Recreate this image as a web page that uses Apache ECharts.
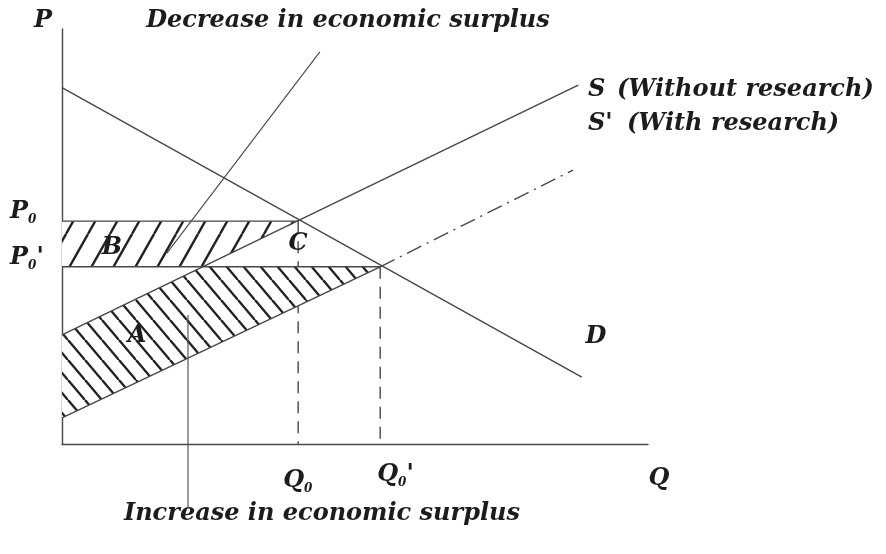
<!DOCTYPE html>
<html>
<head>
<meta charset="utf-8">
<script src="https://cdn.jsdelivr.net/npm/echarts@6/dist/echarts.min.js"></script>
<style>
  html, body { margin: 0; padding: 0; background: #fff; }
  #chart { width: 886px; height: 554px; }
</style>
</head>
<body>
<div id="chart"></div>
<script>
// values, Q and P both on a 0..100 scale
const demandCurve = [[0, 85.9], [88.7, 16.1]];
const supplyWithout = [[0, 26.3], [88.1, 86.5]];
const supplyWith = [[0, 6.3], [54.3, 42.7]];
const supplyWithExtension = [[54.3, 42.7], [87.2, 66.0]];

const priceLineP0 = [[0, 53.7], [40.3, 53.7]];
const priceLineP0p = [[0, 42.7], [54.3, 42.7]];
const guideQ0 = [[40.3, 53.7], [40.3, 0]];
const guideQ0p = [[54.3, 42.7], [54.3, 0]];

const regionA = [[0, 26.3], [24.0, 42.7], [54.3, 42.7], [0, 6.3]];
const regionB = [[0, 53.7], [40.3, 53.7], [24.0, 42.7], [0, 42.7]];

const decreasePointer = [[44.0, 94.5], [17.9, 46.0]];
const increasePointer = [[21.5, 31.1], [21.5, -15.4]];

const quantityTicks = [40.3, 54.3];
const quantityTickLabels = [['Q', '0', ''], ['Q', '0', "'"]];
const priceTicks = [53.7, 42.7];
const priceTickLabels = [['P', '0', ''], ['P', '0', "'"]];

const LINE = '#474747';
const INK = '#1c1c1c';
const FONT = '"DejaVu Serif", "Liberation Serif", serif';
const bigFont = 'italic bold 24px ' + FONT;

function hatch(w, h, dir) {
    const c = document.createElement('canvas');
    c.width = w;
    c.height = h;
    const ctx = c.getContext('2d');
    ctx.fillStyle = '#fff';
    ctx.fillRect(0, 0, w, h);
    ctx.strokeStyle = '#222';
    ctx.lineWidth = 2.4;
    for (const off of [-w, 0, w]) {
        ctx.beginPath();
        if (dir === '/') {
            ctx.moveTo(off, h);
            ctx.lineTo(off + w, 0);
        } else {
            ctx.moveTo(off, 0);
            ctx.lineTo(off + w, h);
        }
        ctx.stroke();
    }
    return c;
}

const patternA = { image: hatch(17, 20, '\\'), repeat: 'repeat' };
const patternB = { image: hatch(22, 39, '/'), repeat: 'repeat' };

function polygonSeries(points, pattern) {
    return {
        type: 'custom',
        silent: true,
        data: [[0, 0]],
        z: 1,
        renderItem: (params, api) => ({
            type: 'polygon',
            shape: { points: points.map(p => api.coord(p)) },
            style: { fill: pattern, stroke: null }
        })
    };
}

function lineSeries(data, style, extra) {
    return Object.assign({
        type: 'line',
        data: data,
        symbol: 'none',
        silent: true,
        z: 3,
        lineStyle: Object.assign({ color: LINE, width: 1.4 }, style)
    }, extra || {});
}

const option = {
    animation: false,
    backgroundColor: '#fff',
    grid: { left: 62, top: 29, width: 586, height: 415, containLabel: false },
    xAxis: {
        type: 'value', min: 0, max: 100,
        axisLine: { lineStyle: { color: LINE, width: 1.4 } },
        axisTick: { show: false }, axisLabel: { show: false }, splitLine: { show: false }
    },
    yAxis: {
        type: 'value', min: 0, max: 100,
        axisLine: { show: true, lineStyle: { color: LINE, width: 1.4 } },
        axisTick: { show: false }, axisLabel: { show: false }, splitLine: { show: false }
    },
    series: [
        lineSeries(guideQ0, { type: [12, 8] }, { z: 0 }),
        lineSeries(guideQ0p, { type: [12, 8] }, { z: 0 }),
        polygonSeries(regionA, patternA),
        polygonSeries(regionB, patternB),
        lineSeries(priceLineP0, {}),
        lineSeries(priceLineP0p, {}),
        lineSeries(demandCurve, {}),
        lineSeries(supplyWithout, {}),
        lineSeries(supplyWith, {}),
        lineSeries(supplyWithExtension, { type: [16, 6, 2, 6] }),
        lineSeries(decreasePointer, { width: 1.1 }, { clip: false }),
        lineSeries(increasePointer, { width: 1.1 }, { clip: false })
    ]
};

const chart = echarts.init(document.getElementById('chart'));
chart.setOption(option);

const toPx = pt => chart.convertToPixel({ gridIndex: 0 }, pt);

function richLabel(parts, x, y, align) {
    return {
        type: 'text', x: x, y: y, z: 100, silent: true,
        style: {
            text: '{m|' + parts[0] + '}{s|' + parts[1] + '}' + (parts[2] ? '{m|' + parts[2] + '}' : ''),
            align: align, verticalAlign: 'middle',
            rich: {
                m: { font: bigFont, fill: INK, lineHeight: 28 },
                s: { font: 'italic bold 12px ' + FONT, fill: INK, lineHeight: 14, verticalAlign: 'bottom' }
            }
        }
    };
}

function plainText(text, x, y, align, font) {
    return {
        type: 'text', x: x, y: y, z: 100, silent: true,
        style: { text: text, font: font || bigFont, fill: INK, align: align || 'center', verticalAlign: 'middle' }
    };
}

// label nudges relative to their tick, as seen in the picture
const quantityLabelNudge = [[-15, 37], [-3, 31]];
const graphics = [];
quantityTicks.forEach((q, i) => {
    const p = toPx([q, 0]);
    graphics.push(richLabel(quantityTickLabels[i], p[0] + quantityLabelNudge[i][0], p[1] + quantityLabelNudge[i][1], 'left'));
});
priceTicks.forEach((v, i) => {
    const p = toPx([0, v]);
    graphics.push(richLabel(priceTickLabels[i], 10, p[1] - 9, 'left'));
});

graphics.push(
    plainText('P', 43, 21),
    plainText('Q', 659, 479),
    plainText('Decrease in economic surplus', 348, 21),
    plainText('Increase in economic surplus', 322, 514),
    plainText('S', 588, 90, 'left'),
    plainText('(Without research)', 617, 90, 'left'),
    plainText("S'", 588, 124, 'left'),
    plainText('(With research)', 627, 124, 'left'),
    plainText('B', 112, 248),
    plainText('C', 298, 244),
    plainText('A', 137, 336),
    plainText('D', 596, 337)
);

chart.setOption({ graphic: { elements: graphics } });
</script>
</body>
</html>
